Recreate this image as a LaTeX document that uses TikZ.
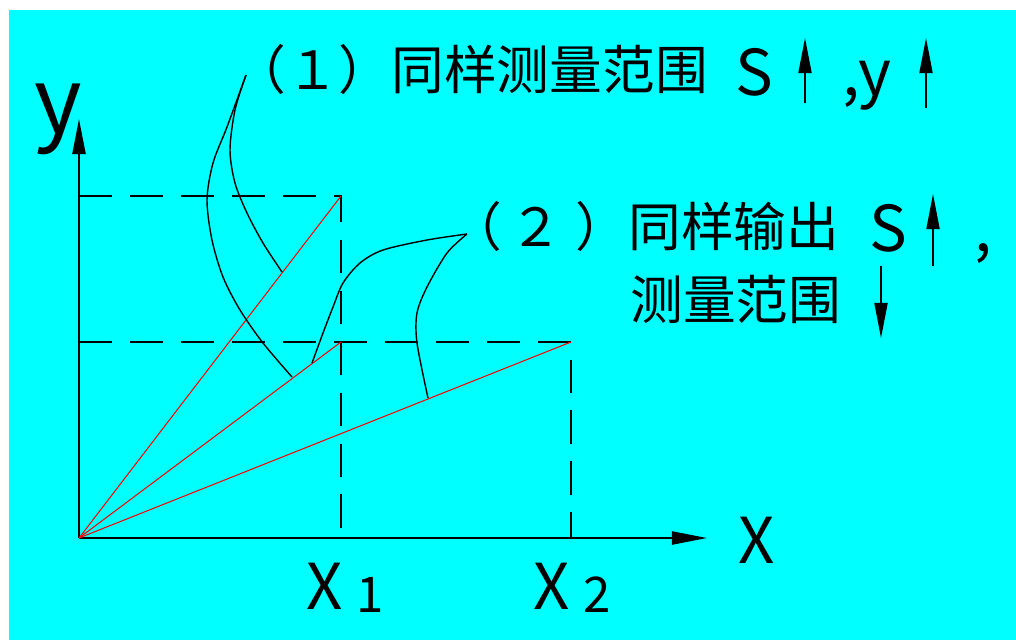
\documentclass[tikz,border=0pt]{standalone}
\usepackage{fontspec}
\newfontfamily\cjk{Noto Sans CJK SC}
\usetikzlibrary{arrows.meta}
\definecolor{pozadie}{RGB}{0,255,255}
\definecolor{cervena}{RGB}{255,0,0}
\begin{document}
\begin{tikzpicture}[
  x=0.02cm, y=-0.02cm,
  arrow/.style = {-{Triangle[length=20pt,width=7.5pt]}},
  osa/.style = {line width=1pt},
  pomocna/.style = {line width=1pt, dash pattern=on 19pt off 10pt},
  luc/.style = {cervena, line width=0.6pt},
  krivka/.style = {line width=0.8pt},
  popis/.style = {font=\cjk\fontsize{30}{30}\selectfont, inner sep=0pt},
  znak/.style = {font=\cjk\fontsize{36}{36}\selectfont, inner sep=0pt}]
  % pozadie
  \useasboundingbox (0,0) rectangle (1016,640);
  \fill[pozadie] (9,10) rectangle (1016,640);

  % body
  \coordinate (O) at (79,538);
  \coordinate (A) at (341,196);
  \coordinate (B) at (341,342);
  \coordinate (C) at (571,342);
  \coordinate (Xend) at (707,538);
  \coordinate (Yend) at (79,119);

  % osi
  \draw[osa, arrow] (O) -- (Xend);
  \draw[osa, arrow] (O) -- (Yend);

  % pomocne ciary
  \draw[pomocna] (O |- A) -- (A) -- (A |- O);
  \draw[pomocna] (O |- C) -- (C) -- (C |- O);

  % luce
  \foreach \P in {A,B,C}
    \draw[luc] (O) -- (\P);

  % odkazove krivky
  \draw[krivka] plot[smooth] coordinates {(246,75) (227,127) (213,163) (207,200) (212,240) (223,277) (240,310) (263,343) (292,377)};
  \draw[krivka] plot[smooth] coordinates {(246,75) (235,110) (230,150) (235,183) (247,213) (263,243) (282,272)};
  \draw[krivka] plot[smooth] coordinates {(467,234) (427,240) (383,250) (360,263) (343,283) (333,307) (323,333) (312,363)};
  \draw[krivka] plot[smooth] coordinates {(467,234) (447,253) (427,287) (417,313) (417,343) (428,398)};

  % popisy osi
  \node[znak, font=\cjk\fontsize{52}{52}\selectfont, anchor=base] (ly) at (58,133) {y};
  \node[znak, anchor=base] (lx) at (757,563) {X};
  \node[znak, anchor=base west] (lx1) at (306,609) {X\hspace{8pt}{\fontsize{28}{28}\selectfont\raisebox{-2pt}{1}}};
  \node[znak, anchor=base west] (lx2) at (533,609) {X\hspace{8pt}{\fontsize{28}{28}\selectfont\raisebox{-2pt}{2}}};

  % text (1)
  \node[popis, anchor=base west] (t1) at (233,89) {（１）同样测量范围};
  \node[znak, anchor=base west] (s1) at (735,95) {S};
  \draw[krivka, arrow] (805,103) -- (805,38);
  \node[znak, anchor=base west] (y1) at (842,95) {,y};
  \draw[krivka, arrow] (926,108) -- (926,38);

  % text (2)
  \node[popis, anchor=base west] (t2) at (449,246) {（\hspace{4pt}２\hspace{8pt}）同样输出};
  \node[znak, anchor=base west] (s2) at (869,251) {S};
  \draw[krivka, arrow] (933,266) -- (933,194);
  \node[znak, anchor=base west] (c2) at (974,251) {,};
  \node[popis, anchor=base west] (t3) at (630,319) {测量范围};
  \draw[krivka, arrow] (881,266) -- (881,338);
\end{tikzpicture}
\end{document}
